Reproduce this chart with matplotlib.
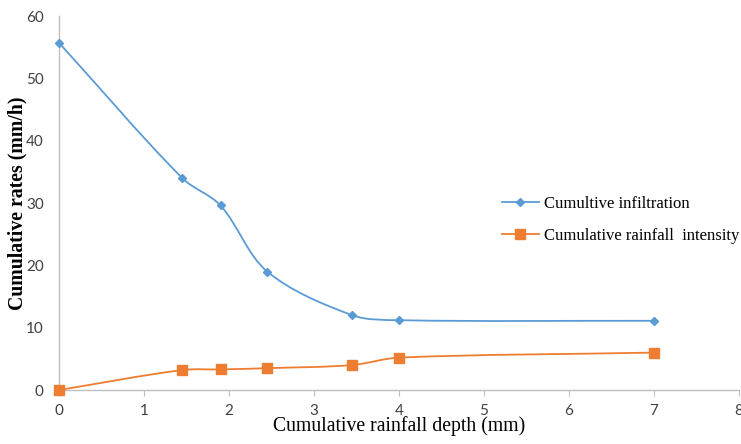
import numpy as np
import matplotlib
matplotlib.use("Agg")
import matplotlib.pyplot as plt
from matplotlib.path import Path
from matplotlib.patches import PathPatch
from matplotlib.lines import Line2D

# Data
depth = [0, 1.45, 1.9, 2.45, 3.45, 4.0, 7.0]
infiltration = [55.7, 34.0, 29.6, 19.0, 12.0, 11.2, 11.1]
rain_intensity = [0.0, 3.2, 3.3, 3.5, 4.0, 5.2, 6.0]

x_ticks = [0, 1, 2, 3, 4, 5, 6, 7, 8]
y_ticks = [0, 10, 20, 30, 40, 50, 60]

BLUE = "#5B9BD5"
ORANGE = "#ED7D31"


def smooth_path(ax, xs, ys):
    # smoothed (Bezier) line built in display space, chord-length scaled tangents
    pts = ax.transData.transform(np.column_stack([xs, ys]).astype(float))
    n = len(pts)
    d = np.linalg.norm(np.diff(pts, axis=0), axis=1)
    tang = []
    for i in range(n):
        if i == 0:
            tang.append((pts[1] - pts[0]) / d[0])
        elif i == n - 1:
            tang.append((pts[-1] - pts[-2]) / d[-1])
        else:
            tang.append((pts[i + 1] - pts[i - 1]) / (d[i - 1] + d[i]))
    verts = [pts[0]]
    codes = [Path.MOVETO]
    for i in range(n - 1):
        c1 = pts[i] + tang[i] * d[i] / 3.0
        c2 = pts[i + 1] - tang[i + 1] * d[i] / 3.0
        verts += [c1, c2, pts[i + 1]]
        codes += [Path.CURVE4] * 3
    verts = ax.transData.inverted().transform(np.array(verts))
    return Path(verts, codes)


fig = plt.figure(figsize=(7.41, 4.44), dpi=100)
ax = fig.add_axes([59 / 741, 54 / 444, 680 / 741, 374 / 444])
ax.set_xlim(0, 8)
ax.set_ylim(0, 60)
ax.set_xticks(x_ticks)
ax.set_yticks(y_ticks)

ax.add_patch(PathPatch(smooth_path(ax, depth, infiltration), fill=False,
                       edgecolor=BLUE, lw=1.3, zorder=2))
ax.add_patch(PathPatch(smooth_path(ax, depth, rain_intensity), fill=False,
                       edgecolor=ORANGE, lw=1.3, zorder=2))
ax.plot(depth, infiltration, ls="none", marker="D", ms=4.5, color=BLUE, zorder=3, clip_on=False)
ax.plot(depth, rain_intensity, ls="none", marker="s", ms=7, color=ORANGE, zorder=3, clip_on=False)

for s in ["top", "right"]:
    ax.spines[s].set_visible(False)
for s in ["left", "bottom"]:
    ax.spines[s].set_color("#BFBFBF")
    ax.spines[s].set_linewidth(1.0)

ax.tick_params(axis="x", direction="out", length=4, color="#BFBFBF", pad=6,
               labelsize=11, labelcolor="#404040")
ax.tick_params(axis="y", length=0, pad=11, labelsize=11, labelcolor="#404040")
for lab in ax.get_xticklabels() + ax.get_yticklabels():
    lab.set_fontfamily("Lato")

ax.set_xlabel("Cumulative rainfall depth (mm)", fontfamily="Liberation Serif",
              fontsize=14.2, labelpad=-1)
ax.set_ylabel("Cumulative rates (mm/h)", fontfamily="Liberation Serif",
              fontsize=14.2, fontweight="bold")
ax.yaxis.set_label_coords((27 - 59) / 680, (390 - 203) / 374)

handles = [
    Line2D([], [], color=BLUE, lw=1.3, marker="D", ms=4.5),
    Line2D([], [], color=ORANGE, lw=1.3, marker="s", ms=7),
]
ax.legend(handles, ["Cumultive infiltration", "Cumulative rainfall  intensity"],
          loc="upper left", bbox_to_anchor=(502 / 741, (444 - 196) / 444),
          bbox_transform=fig.transFigure, frameon=False,
          prop={"family": "Liberation Serif", "size": 12},
          handlelength=2.2, handletextpad=0.3, labelspacing=0.95, borderaxespad=0,
          borderpad=0)

fig.savefig("out.png", dpi=100)
